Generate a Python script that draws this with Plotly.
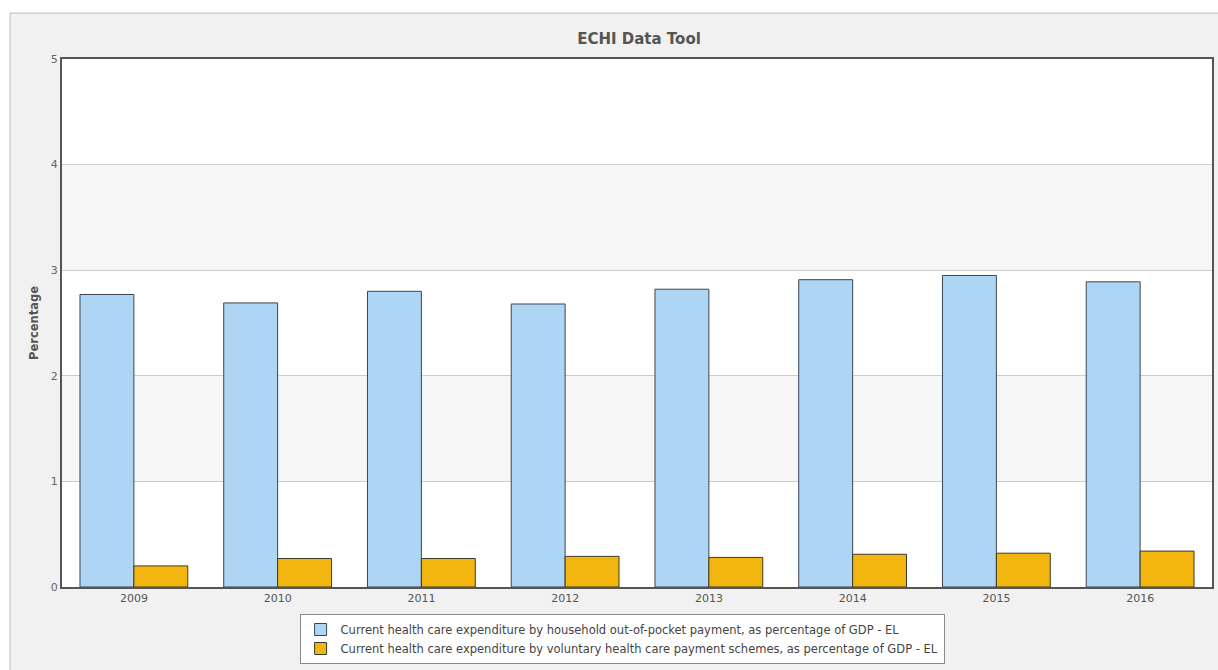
import plotly.graph_objects as go

years = ["2009", "2010", "2011", "2012", "2013", "2014", "2015", "2016"]
out_of_pocket = [2.77, 2.69, 2.80, 2.68, 2.82, 2.91, 2.95, 2.89]
voluntary = [0.20, 0.27, 0.27, 0.29, 0.28, 0.31, 0.32, 0.34]
series_names = [
    "Current health care expenditure by household out-of-pocket payment, as percentage of GDP - EL",
    "Current health care expenditure by voluntary health care payment schemes, as percentage of GDP - EL",
]
y_ticks = [0, 1, 2, 3, 4, 5]

W, H = 1218, 670
L, R, T, B = 62, 4, 59, 83
pw, ph = W - L - R, H - T - B


def px_x(p):
    return (p - L) / pw


def px_y(p):
    return (H - B - p) / ph


fig = go.Figure()
fig.add_bar(x=years, y=out_of_pocket, name=series_names[0],
            marker=dict(color="#afd5f5", line=dict(color="#3a4552", width=1)))
fig.add_bar(x=years, y=voluntary, name=series_names[1],
            marker=dict(color="#f3b60f", line=dict(color="#3a3a2a", width=1)))

shapes = [
    # outer panel
    dict(type="rect", xref="paper", yref="paper", layer="below",
         x0=px_x(10), x1=px_x(1240), y0=px_y(700), y1=px_y(13),
         fillcolor="#f1f1f1", line=dict(color="#bcbcbc", width=1)),
    # plot area background
    dict(type="rect", xref="paper", yref="paper", layer="below",
         x0=0, x1=1, y0=0, y1=1, fillcolor="#ffffff", line=dict(width=0)),
]
# alternating bands
for lo in (1, 3):
    shapes.append(dict(type="rect", xref="paper", yref="y", layer="below",
                       x0=0, x1=1, y0=lo, y1=lo + 1,
                       fillcolor="#f6f6f6", line=dict(width=0)))

fig.update_layout(
    width=W, height=H,
    margin=dict(l=L, r=R, t=T, b=B),
    paper_bgcolor="#ffffff",
    plot_bgcolor="rgba(0,0,0,0)",
    barmode="group",
    bargap=0.25,
    bargroupgap=0.0,
    font=dict(family="DejaVu Sans, Verdana, sans-serif", color="#555555", size=11),
    title=dict(text="<b>ECHI Data Tool</b>", xref="container", x=639 / W, xanchor="center",
               y=1 - 39 / H, yanchor="middle",
               font=dict(size=15, color="#555555")),
    shapes=shapes,
    showlegend=True,
    legend=dict(x=px_x(300), y=px_y(614), xanchor="left", yanchor="top",
                bgcolor="#ffffff", bordercolor="#8a8a8a", borderwidth=1,
                font=dict(size=11.5, color="#444444"),
                tracegroupgap=0, itemwidth=30),
)
fig.update_xaxes(showline=True, linecolor="#555555", linewidth=2, mirror=True,
                 ticks="", tickfont=dict(size=11, color="#555555"),
                 showgrid=False)
fig.update_yaxes(range=[0, 5], tickvals=y_ticks, showline=True, linecolor="#555555",
                 linewidth=2, mirror=True, gridcolor="#cccccc", gridwidth=1,
                 zeroline=False, tickfont=dict(size=11, color="#666666"),
                 ticks="", ticklen=0,
                 title=dict(text="<b>Percentage</b>", font=dict(size=11.5, color="#555555"),
                            standoff=10))

fig.write_html("out.html")
